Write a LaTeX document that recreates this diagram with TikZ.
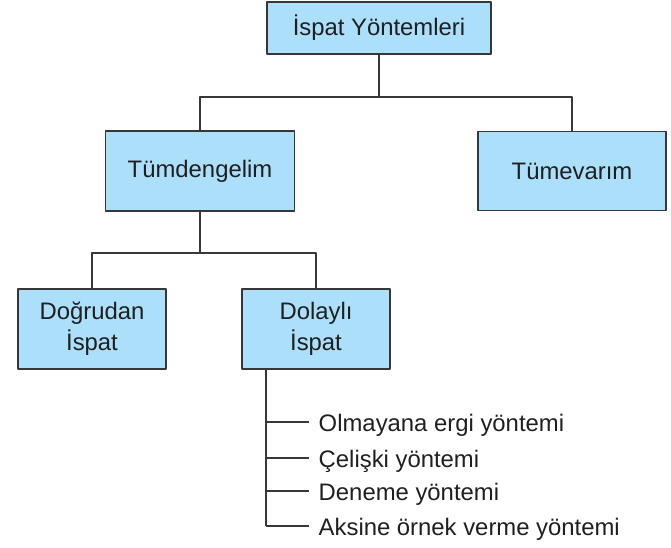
\documentclass[tikz,border=0pt]{standalone}
\usepackage{fontspec}
\setmainfont{Liberation Sans}
\definecolor{kutumavi}{RGB}{171,223,250}
\definecolor{cizgi}{RGB}{55,55,55}
\begin{document}
\begin{tikzpicture}[x=0.75pt, y=-0.75pt, line width=1.1pt, line join=round,
		font=\fontsize{17.9}{23.5}\selectfont,
		kutu/.style={draw=cizgi, fill=kutumavi, text=black!88, align=center, inner sep=0pt},
		dal/.style={draw=cizgi}]
	\useasboundingbox (0,0) rectangle (671,547);
	\node[kutu, minimum width=168pt, minimum height=39pt] (ispat) at (379,28) {İspat Yöntemleri};
	\node[kutu, minimum width=142pt, minimum height=60pt] (tumden) at (200,171) {Tümdengelim};
	\node[kutu, minimum width=141pt, minimum height=59pt] (tumev) at (572,171) {Tümevarım};
	\node[kutu, minimum width=111pt, minimum height=60pt] (dogru) at (92,329) {Doğrudan\\İspat};
	\node[kutu, minimum width=111pt, minimum height=60pt] (dolayli) at (316,329) {Dolaylı\\İspat};
	\coordinate (c1) at (379,97);
	\coordinate (c2) at (200,253);
	\draw[dal] (ispat.south) -- (c1);
	\draw[dal] (tumden.north) |- (c1) -| (tumev.north);
	\draw[dal] (tumden.south) -- (c2);
	\draw[dal] (dogru.north) |- (c2) -| (dolayli.north);
	\foreach \i/\y/\metin in {1/422/Olmayana ergi yöntemi, 2/458/Çelişki yöntemi,
			3/491/Deneme yöntemi, 4/526/Aksine örnek verme yöntemi}{
		\coordinate (b\i) at (266,\y);
		\node[anchor=base west, inner xsep=6.75pt, inner ysep=0pt, text=black!88] (m\i) at (309,\y+9) {\metin};
		\draw[dal] (b\i) -- (b\i -| m\i.west);
	}
	\draw[dal] (dolayli.south -| b4) -- (b4);
\end{tikzpicture}
\end{document}
